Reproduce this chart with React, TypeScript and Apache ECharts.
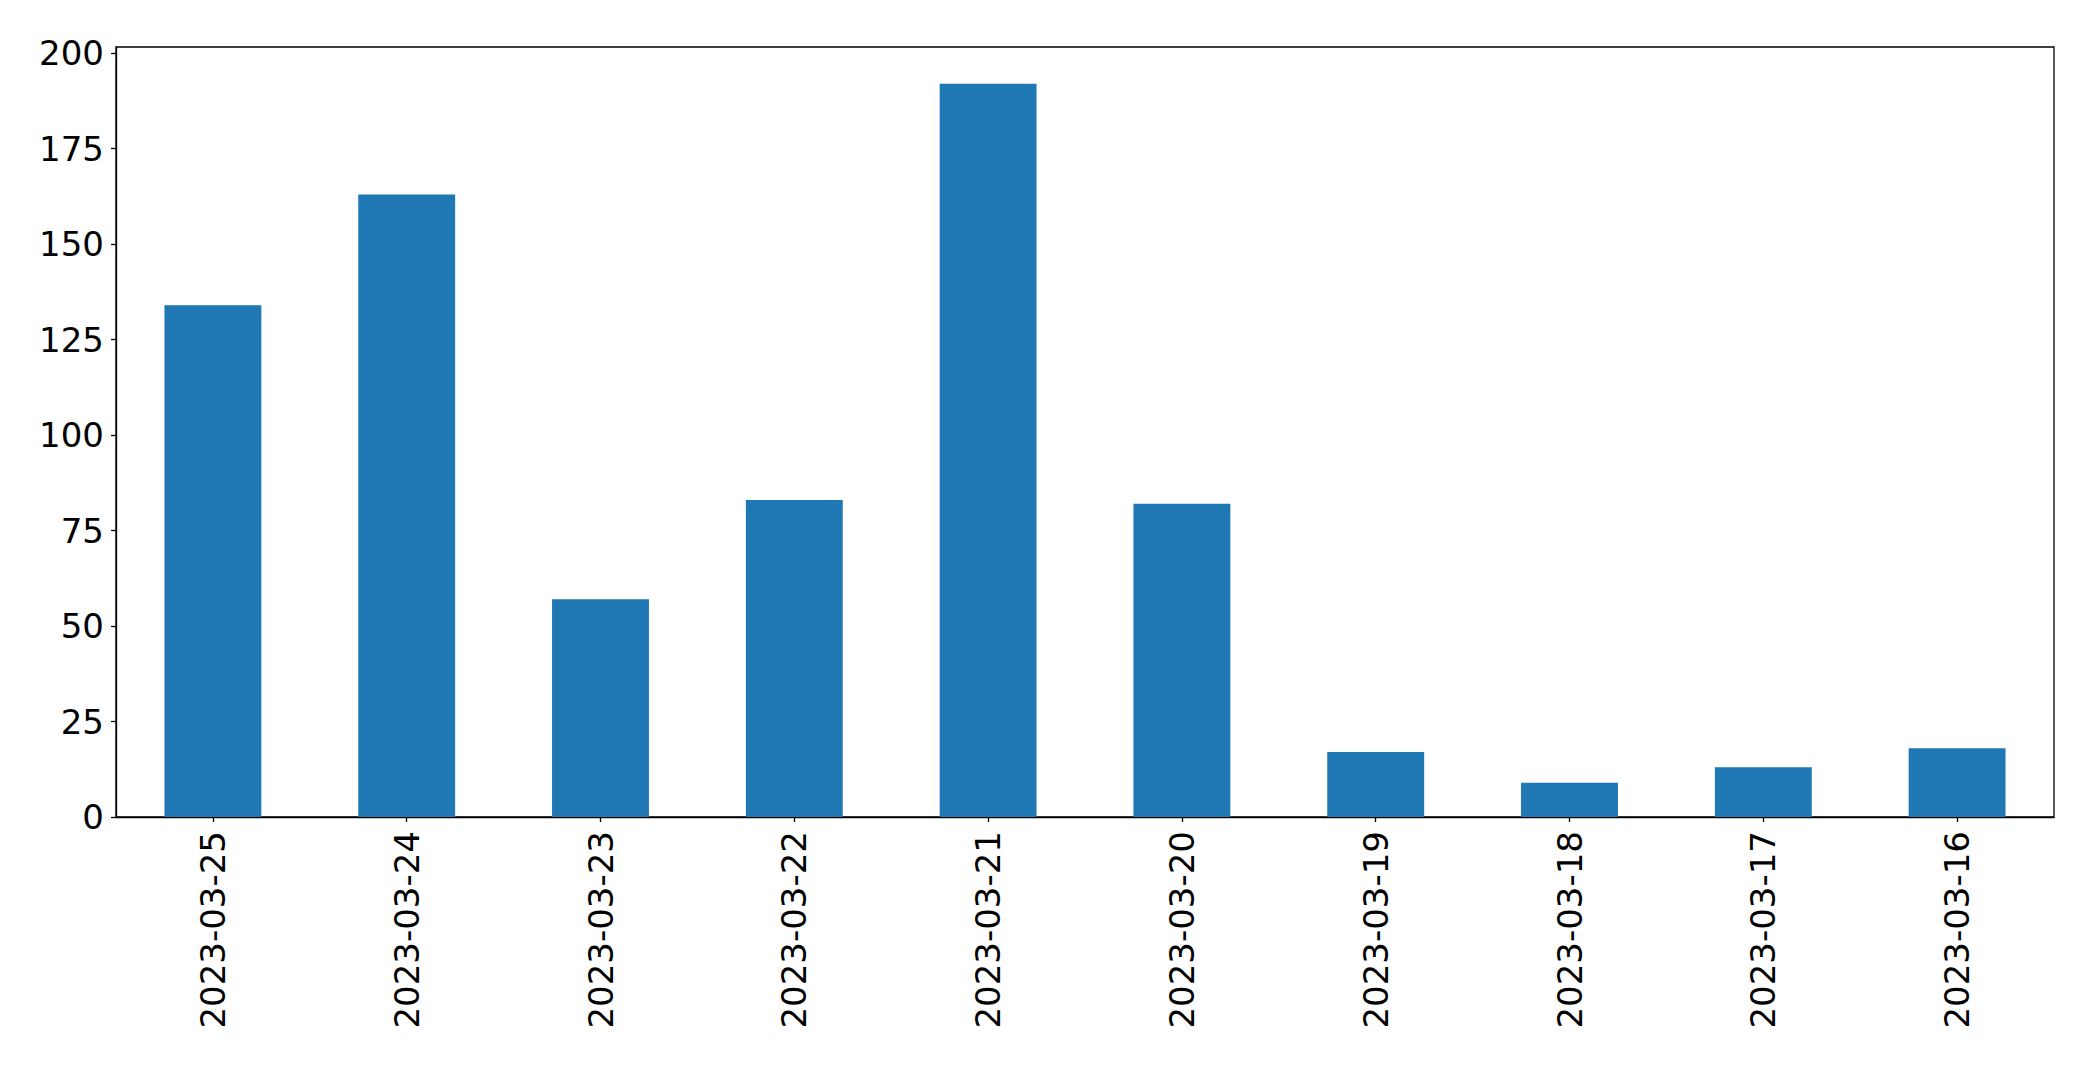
import React, { useEffect, useRef } from "react";
import * as echarts from "echarts";

const categories = [
  "2023-03-25",
  "2023-03-24",
  "2023-03-23",
  "2023-03-22",
  "2023-03-21",
  "2023-03-20",
  "2023-03-19",
  "2023-03-18",
  "2023-03-17",
  "2023-03-16",
];
const values = [134, 163, 57, 83, 192, 82, 17, 9, 13, 18];
const yMax = 201.6;
const yInterval = 25;

export default function App() {
  const ref = useRef<HTMLDivElement>(null);
  useEffect(() => {
    if (!ref.current) return;
    const chart = echarts.init(ref.current, null, { renderer: "svg" });
    const font = "DejaVu Sans";
    chart.setOption({
      animation: false,
      backgroundColor: "#ffffff",
      grid: {
        left: 116,
        top: 47,
        right: 39,
        bottom: 252,
        show: true,
        borderColor: "#000000",
        borderWidth: 1.3,
        backgroundColor: "transparent",
      },
      xAxis: {
        type: "category",
        data: categories,
        axisLine: { show: true, lineStyle: { color: "#000000", width: 1.3 } },
        axisTick: {
          show: true,
          alignWithLabel: true,
          length: 5,
          lineStyle: { color: "#000000", width: 1.3 },
        },
        axisLabel: {
          rotate: 90,
          fontSize: 34,
          fontFamily: font,
          color: "#000000",
          margin: 14,
          interval: 0,
        },
        splitLine: { show: false },
      },
      yAxis: {
        type: "value",
        min: 0,
        max: yMax,
        interval: yInterval,
        axisLine: { show: true, lineStyle: { color: "#000000", width: 1.3 } },
        axisTick: {
          show: true,
          length: 5,
          lineStyle: { color: "#000000", width: 1.3 },
        },
        axisLabel: {
          fontSize: 34,
          fontFamily: font,
          color: "#000000",
          margin: 12,
          showMaxLabel: false,
          formatter: (v: number) => (Math.abs(v % yInterval) < 1e-9 ? String(v) : ""),
        },
        splitLine: { show: false },
      },
      series: [
        {
          type: "bar",
          data: values,
          barWidth: "50%",
          itemStyle: { color: "#1f77b4" },
        },
      ],
    });
    return () => chart.dispose();
  }, []);
  return (
    <div
      ref={ref}
      style={{ position: "absolute", left: 0, top: 0, width: 2093, height: 1069 }}
    />
  );
}
